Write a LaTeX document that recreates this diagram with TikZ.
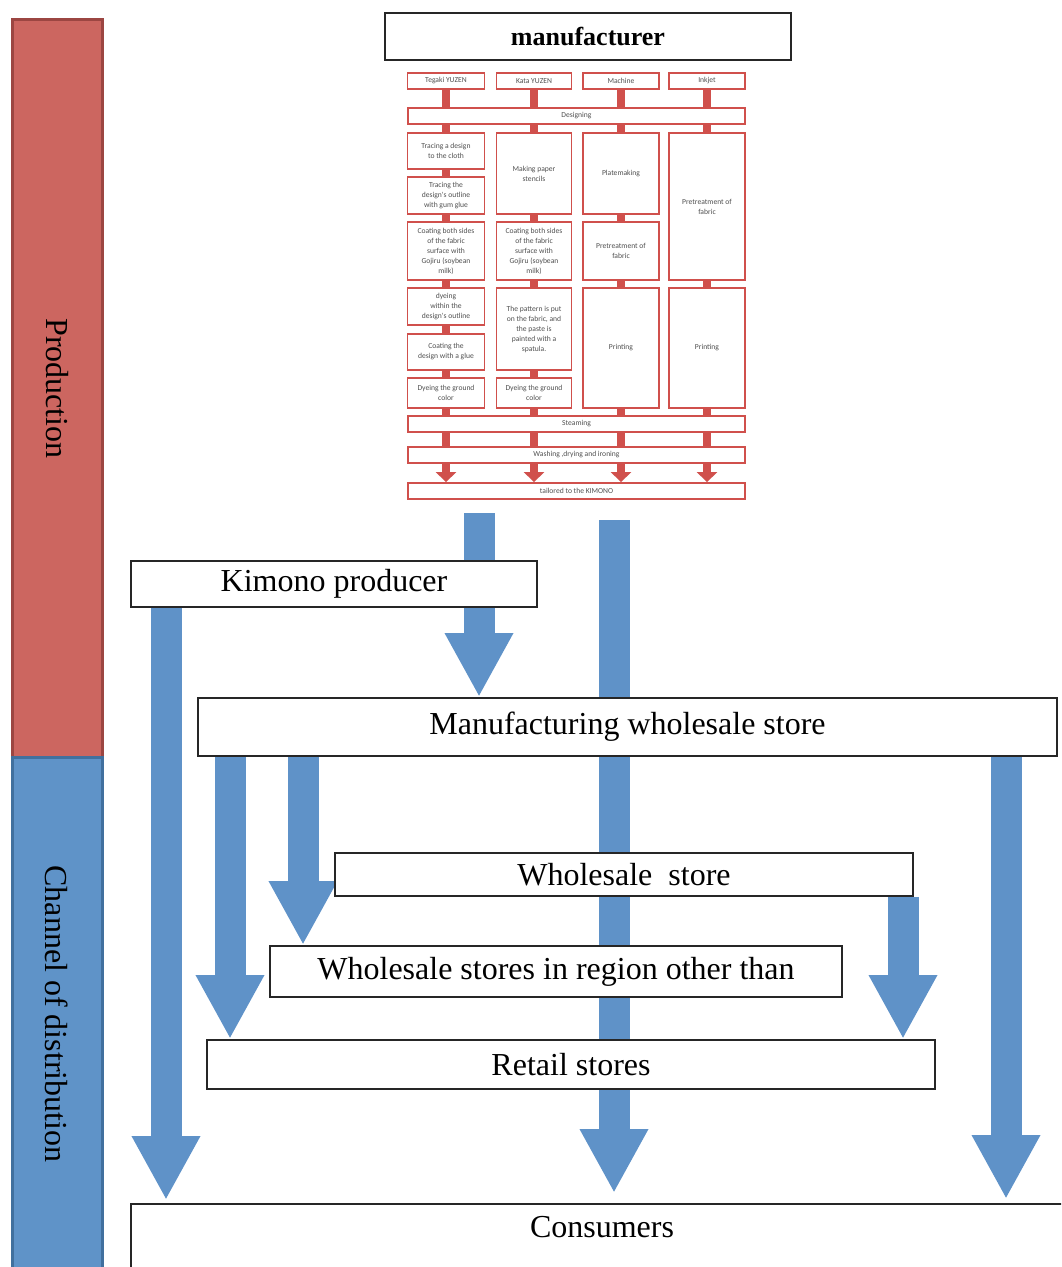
\documentclass[tikz,border=0pt]{standalone}
\usepackage{fontspec}
\setmainfont{Liberation Serif}
\newfontfamily\smallsans{Carlito}
\usetikzlibrary{arrows.meta}
\usetikzlibrary{backgrounds}

\definecolor{prodred}{HTML}{CC6660}
\definecolor{prodredline}{HTML}{9C4642}
\definecolor{chanblue}{HTML}{5F93C8}
\definecolor{chanblueline}{HTML}{41709E}
\definecolor{flowblue}{HTML}{5F92C8}
\definecolor{stepred}{HTML}{D0504C}
\definecolor{steptext}{HTML}{505050}

\begin{document}
\begin{tikzpicture}[x=0.5pt, y=-0.5pt, every node/.style={inner sep=0pt},
    bar/.style={draw, line width=1.5pt, rotate=-90, minimum height=45pt, font=\fontsize{16}{19}\selectfont},
    box/.style={draw=black!85, line width=1pt, fill=white, font=\fontsize{16}{19}\selectfont},
    stepbox/.style={draw=stepred, line width=0.9pt, fill=white, align=center, text=steptext, font=\smallsans\fontsize{3.8}{5}\selectfont},
    link/.style={stepred, line width=4pt},
    linkarrow/.style={stepred, line width=4pt, -{Triangle[width=10pt,length=5pt]}},
    flow/.style={flowblue, line width=15.5pt, -{Triangle[width=32pt,length=32pt]}}]
          \useasboundingbox (0,0) rectangle (1061,1267);
          \clip (0,0) rectangle (1061,1267);

          % side bars
          \node[bar, fill=prodred, draw=prodredline, minimum width=368.5pt] (prod) at (57, 388.5) {Production};
          \node[bar, fill=chanblue, draw=chanblueline, minimum width=257pt] (chan) at (57, 1014) {Channel of distribution};

          % manufacturer and its process chart
          \node[box, minimum width=203pt, minimum height=23.5pt, font=\bfseries\fontsize{13}{15}\selectfont] (mfr) at (588, 36.5) {manufacturer};

          \node[stepbox, minimum width=38.5pt, minimum height=8pt] (t1) at (446, 81) {Tegaki YUZEN};
          \node[stepbox, minimum width=37.5pt, minimum height=8pt] (t2) at (534, 81) {Kata YUZEN};
          \node[stepbox, minimum width=38pt, minimum height=8pt] (t3) at (621, 81) {Machine};
          \node[stepbox, minimum width=38pt, minimum height=8pt] (t4) at (707, 81) {Inkjet};

          \node[stepbox, minimum width=168.5pt, minimum height=8pt] (dsg) at (576.5, 116) {Designing};

          \node[stepbox, minimum width=38.5pt, minimum height=18pt] (a1) at (446, 151) {Tracing a design\\to the cloth};
          \node[stepbox, minimum width=38.5pt, minimum height=18.5pt] (a2) at (446, 195.5) {Tracing the\\design's outline\\with gum glue};
          \node[stepbox, minimum width=38.5pt, minimum height=29pt] (a3) at (446, 251) {Coating both sides\\of the fabric\\surface with\\Gojiru (soybean\\milk)};
          \node[stepbox, minimum width=38.5pt, minimum height=18.5pt] (a4) at (446, 306.5) {dyeing\\within the\\design's outline};
          \node[stepbox, minimum width=38.5pt, minimum height=18pt] (a5) at (446, 352) {Coating the\\design with a glue};
          \node[stepbox, minimum width=38.5pt, minimum height=15pt] (a6) at (446, 393) {Dyeing the ground\\color};

          \node[stepbox, minimum width=37.5pt, minimum height=40.5pt] (b1) at (534, 173.5) {Making paper\\stencils};
          \node[stepbox, minimum width=37.5pt, minimum height=29pt] (b2) at (534, 251) {Coating both sides\\of the fabric\\surface with\\Gojiru (soybean\\milk)};
          \node[stepbox, minimum width=37.5pt, minimum height=41pt] (b3) at (534, 329) {The pattern is put\\on the fabric, and\\the paste is\\painted with a\\spatula.};
          \node[stepbox, minimum width=37.5pt, minimum height=15pt] (b4) at (534, 393) {Dyeing the ground\\color};

          \node[stepbox, minimum width=38pt, minimum height=40.5pt] (c1) at (621, 173.5) {Platemaking};
          \node[stepbox, minimum width=38pt, minimum height=29pt] (c2) at (621, 251) {Pretreatment of\\fabric};
          \node[stepbox, minimum width=38pt, minimum height=60pt] (c3) at (621, 348) {Printing};

          \node[stepbox, minimum width=38pt, minimum height=73.5pt] (d1) at (707, 206.5) {Pretreatment of\\fabric};
          \node[stepbox, minimum width=38pt, minimum height=60pt] (d2) at (707, 348) {Printing};

          \node[stepbox, minimum width=168.5pt, minimum height=8pt] (stm) at (576.5, 424) {Steaming};
          \node[stepbox, minimum width=168.5pt, minimum height=8pt] (wash) at (576.5, 455) {Washing ,drying and ironing};
          \node[stepbox, minimum width=168.5pt, minimum height=8pt] (tail) at (576.5, 491) {tailored to the KIMONO};

          \foreach \t in {t1, t2, t3, t4} {
            \draw[link] (\t.south) -- (dsg.north -| \t);
          }
          \foreach \s in {a1, b1, c1, d1} {
            \draw[link] (dsg.south -| \s) -- (\s.north);
          }
          \draw[link] (a1) -- (a2);
          \draw[link] (a2) -- (a3);
          \draw[link] (a3) -- (a4);
          \draw[link] (a4) -- (a5);
          \draw[link] (a5) -- (a6);
          \draw[link] (b1) -- (b2);
          \draw[link] (b2) -- (b3);
          \draw[link] (b3) -- (b4);
          \draw[link] (c1) -- (c2);
          \draw[link] (c2) -- (c3);
          \draw[link] (d1) -- (d2);
          \foreach \s in {a6, b4, c3, d2} {
            \draw[link] (\s.south) -- (stm.north -| \s);
            \draw[link] (stm.south -| \s) -- (wash.north -| \s);
            \draw[linkarrow] (wash.south -| \s) -- (tail.north -| \s);
          }

          % channel boxes
          \node[box, minimum width=203pt, minimum height=23pt] (kp) at (334, 584) {Kimono producer};
          \node[box, minimum width=429.5pt, minimum height=29pt] (mws) at (627.5, 727) {Manufacturing wholesale store};
          \node[box, minimum width=289pt, minimum height=21.5pt] (ws) at (624, 874.5) {Wholesale\ \ store};
          \node[box, minimum width=286pt, minimum height=25.5pt] (wsr) at (556, 971.5) {Wholesale stores in region other than};
          \node[box, minimum width=364pt, minimum height=24.5pt] (rs) at (571, 1064.5) {Retail stores};
          \node[box, anchor=north, minimum width=471pt, inner ysep=4.5pt, text height=12pt, text depth=40pt] (cons) at (602, 1203) {Consumers};

          \coordinate (srcA) at (479, 513);
          \coordinate (srcB) at (614, 520);
          \coordinate (xC) at (166, 0);
          \coordinate (xD) at (230, 0);
          \coordinate (xE) at (303, 0);
          \coordinate (xF) at (1006, 0);
          \coordinate (xG) at (903, 0);

          \begin{scope}[on background layer]
            \draw[flow] (srcA) -- (mws.north -| srcA);
            \draw[flow, shorten >=5pt] (srcB) -- (cons.north -| srcB);
            \draw[flow, shorten >=1.5pt] (kp.south -| xC) -- (cons.north -| xC);
            \draw[flow] (mws.south -| xD) -- (rs.north -| xD);
            \draw[flow] (mws.south -| xE) -- (wsr.north -| xE);
            \draw[flow, shorten >=2pt] (mws.south -| xF) -- (cons.north -| xF);
            \draw[flow] (ws.south -| xG) -- (rs.north -| xG);
          \end{scope}
        \end{tikzpicture}
\end{document}
